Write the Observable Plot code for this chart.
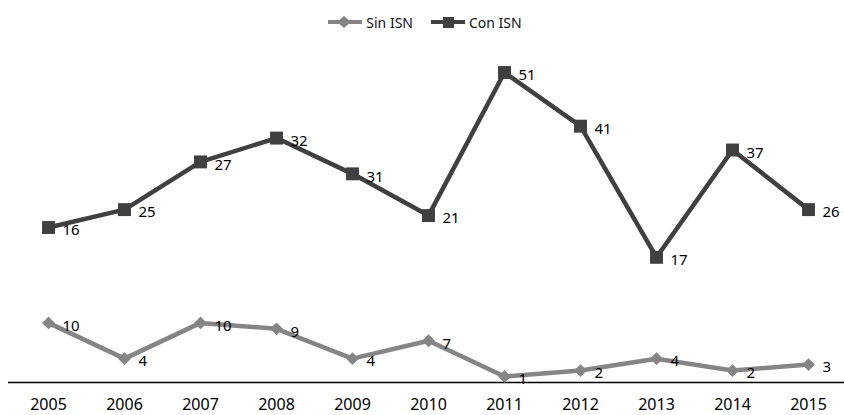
<!DOCTYPE html>
<html>
<head>
<meta charset="utf-8">
<script src="https://cdn.jsdelivr.net/npm/d3@7"></script>
<script src="https://cdn.jsdelivr.net/npm/@observablehq/plot@0.6"></script>
<style>
  html, body { margin: 0; padding: 0; background: #fff; }
  body { width: 844px; height: 415px; overflow: hidden; font-family: "Noto Sans", sans-serif; }
  #legend { height: 40px; display: flex; justify-content: center; align-items: center; gap: 18px; font-size: 14px; color: #111; padding-top: 4px; padding-left: 6px; box-sizing: border-box; }
  .item { display: flex; align-items: center; gap: 4px; }
</style>
</head>
<body>
<div id="legend"></div>
<div id="chart"></div>
<script>
const years = ["2005","2006","2007","2008","2009","2010","2011","2012","2013","2014","2015"];
const seriesNames = ["Sin ISN", "Con ISN"];
const sinISN = [10, 4, 10, 9, 4, 7, 1, 2, 4, 2, 3];
const conISN = [16, 25, 27, 32, 31, 21, 51, 41, 17, 37, 26];
const colors = ["#858585", "#404040"];
const symbols = ["diamond2", "square"];
const markerR = [5.8, 7.3];

const data = [];
years.forEach((y, i) => data.push({year: y, series: seriesNames[0], value: sinISN[i]}));
years.forEach((y, i) => data.push({year: y, series: seriesNames[1], value: conISN[i]}));

// Legend
const legend = document.getElementById("legend");
seriesNames.forEach((name, i) => {
  const item = document.createElement("div");
  item.className = "item";
  const marker = i === 0
    ? `<polygon points="16,1 23,7 16,13 9,7" fill="${colors[i]}"/>`
    : `<rect x="12" y="2" width="11" height="11" fill="${colors[i]}"/>`;
  item.innerHTML = `<svg width="34" height="14"><line x1="0" x2="34" y1="7" y2="7" stroke="${colors[i]}" stroke-width="4"/>${marker}</svg><span>${name}</span>`;
  legend.appendChild(item);
});

const stackOpts = {x: "year", y: "value", z: "series"};

const chart = Plot.plot({
  width: 844,
  height: 375,
  marginLeft: 10,
  marginRight: -2,
  marginTop: 32,
  marginBottom: 33,
  style: {fontFamily: "Noto Sans, sans-serif", background: "#fff"},
  x: {type: "point", domain: years, padding: 0.5, round: false, label: null},
  y: {domain: [0, 52], axis: null},
  r: {type: "identity"},
  color: {domain: seriesNames, range: colors},
  symbol: {domain: seriesNames, range: symbols},
  marks: [
    Plot.ruleY([0], {stroke: "#000", strokeWidth: 1.5, insetLeft: -2}),
    Plot.axisX({tickSize: 0, tickPadding: 16, fontSize: 16, fill: "#000", label: null}),
    Plot.lineY(data, Plot.stackY2({...stackOpts, stroke: "series", strokeWidth: 4.5})),
    Plot.dot(data, Plot.stackY2({...stackOpts, fill: "series", symbol: "series", r: d => markerR[seriesNames.indexOf(d.series)], stroke: "none"})),
    Plot.text(data, Plot.stackY2({...stackOpts, text: "value", textAnchor: "start", dx: 14, dy: 3, fontSize: 15, fill: "#000"}))
  ]
});
document.getElementById("chart").appendChild(chart);
</script>
</body>
</html>
